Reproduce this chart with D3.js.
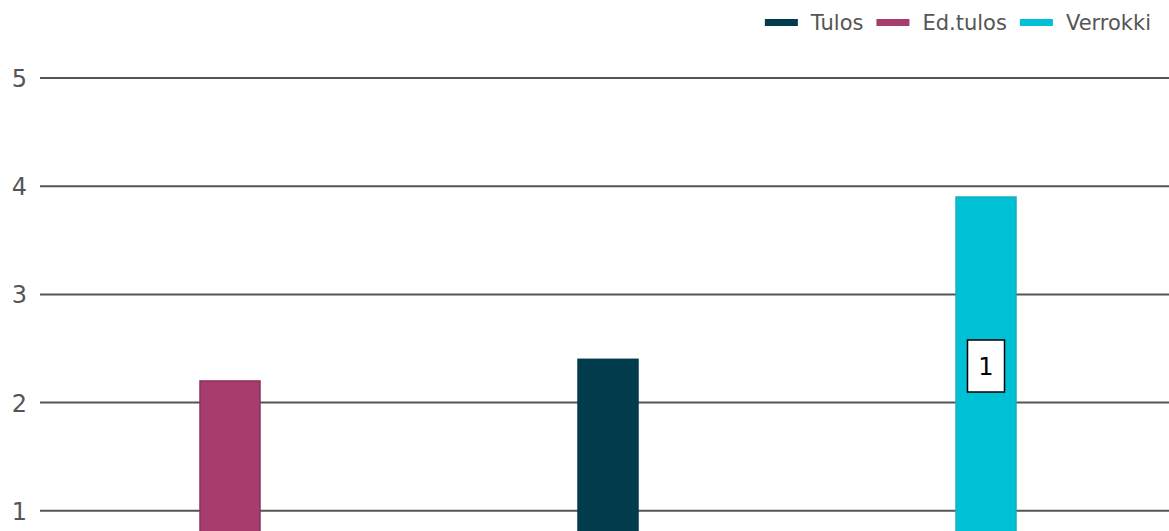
<!DOCTYPE html>
<meta charset="utf-8">
<script src="https://d3js.org/d3.v7.min.js"></script>
<style>
  body { margin: 0; overflow: hidden; background: #fff; }
  text { font-family: "DejaVu Sans", sans-serif; }
</style>
<div id="my_dataviz"></div>
<script>

// data
var categories = ["Ed.tulos", "Tulos", "Verrokki"];
var values = [2.2, 2.4, 3.9];
var yTicks = [1, 2, 3, 4, 5];
var boxLabels = [null, null, "1"];

var legendNames = ["Tulos", "Ed.tulos", "Verrokki"];
var colors = {"Tulos": "#023b4b", "Ed.tulos": "#a63d6d", "Verrokki": "#00c0d6"};
var strokes = {"Tulos": "#023b4b", "Ed.tulos": "#8f3060", "Verrokki": "#17aebf"};

var W = 1169, H = 531;
var svg = d3.select("#my_dataviz")
  .append("svg")
    .attr("width", W)
    .attr("height", H);

// scales
var x = d3.scaleBand()
  .domain(categories)
  .range([41, 1175]);

var y = d3.scaleLinear()
  .domain([0, 5])
  .range([619, 78]);

var barW = 60;
var bottom = 535;

// grid lines + tick labels
svg.selectAll(".grid")
  .data(yTicks)
  .enter().append("line")
    .attr("x1", 40)
    .attr("x2", W)
    .attr("y1", function(d) { return y(d); })
    .attr("y2", function(d) { return y(d); })
    .attr("stroke", "#555")
    .attr("stroke-width", 2);

svg.selectAll(".tick")
  .data(yTicks)
  .enter().append("text")
    .attr("x", 27)
    .attr("y", function(d) { return y(d) + 9; })
    .attr("text-anchor", "end")
    .attr("font-size", 24)
    .attr("fill", "#555")
    .text(function(d) { return d; });

// bars
svg.selectAll("rect.bar")
  .data(categories)
  .enter().append("rect")
    .attr("class", "bar")
    .attr("x", function(d) { return x(d) + x.bandwidth() / 2 - barW / 2; })
    .attr("y", function(d, i) { return y(values[i]); })
    .attr("width", barW)
    .attr("height", function(d, i) { return bottom - y(values[i]); })
    .attr("fill", function(d) { return colors[d]; })
    .attr("stroke", function(d) { return strokes[d]; })
    .attr("stroke-width", 1.5);

// boxed labels
categories.forEach(function(d, i) {
  if (!boxLabels[i]) return;
  var cx = x(d) + x.bandwidth() / 2;
  var cy = (y(values[i]) + bottom) / 2;
  svg.append("rect")
    .attr("x", cx - 18.5)
    .attr("y", cy - 26)
    .attr("width", 37)
    .attr("height", 52)
    .attr("fill", "#fff")
    .attr("stroke", "#000")
    .attr("stroke-width", 1.5);
  svg.append("text")
    .attr("x", cx)
    .attr("y", cy + 9)
    .attr("text-anchor", "middle")
    .attr("font-size", 24)
    .attr("fill", "#000")
    .text(boxLabels[i]);
});

// legend, right aligned
var legend = svg.append("g");
var lx = 1151;
for (var i = legendNames.length - 1; i >= 0; i--) {
  var t = legend.append("text")
    .attr("y", 30)
    .attr("font-size", 21)
    .attr("fill", "#555")
    .text(legendNames[i]);
  var tw = t.node().getComputedTextLength();
  t.attr("x", lx - tw);
  legend.append("rect")
    .attr("x", lx - tw - 46)
    .attr("y", 19)
    .attr("width", 33)
    .attr("height", 7)
    .attr("fill", colors[legendNames[i]]);
  lx = lx - tw - 46 - 13;
}

</script>
